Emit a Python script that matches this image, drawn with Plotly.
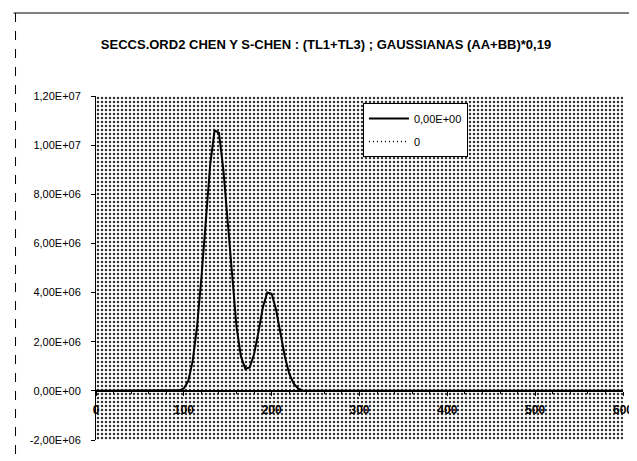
import plotly.graph_objects as go

# ---- data ----
x_vals = [0, 80, 85, 90, 95, 100, 105, 110, 115, 120, 125, 130, 135, 140, 145,
          150, 155, 160, 165, 170, 175, 180, 185, 190, 195, 200, 205, 210, 215,
          220, 225, 230, 235, 240, 250, 600]
y_gauss = [0, 0, 0, 0, 0.02e6, 0.1e6, 0.4e6, 1.2e6, 2.6e6, 4.6e6, 7.0e6, 9.2e6,
           10.6e6, 10.5e6, 9.0e6, 6.8e6, 4.5e6, 2.6e6, 1.4e6, 0.9e6, 0.95e6,
           1.5e6, 2.4e6, 3.4e6, 4.0e6, 3.95e6, 3.3e6, 2.3e6, 1.4e6, 0.7e6,
           0.3e6, 0.1e6, 0.02e6, 0, 0, 0]
x_zero = [0, 600]
y_zero = [0, 0]

series_names = ["0,00E+00", "0"]
title_text = "SECCS.ORD2 CHEN Y S-CHEN : (TL1+TL3) ; GAUSSIANAS (AA+BB)*0,19"

y_tickvals = [-2e6, 0, 2e6, 4e6, 6e6, 8e6, 1e7, 1.2e7]
y_ticktext = ["-2,00E+06", "0,00E+00", "2,00E+06", "4,00E+06", "6,00E+06",
              "8,00E+06", "1,00E+07", "1,20E+07"]
x_tickvals = [0, 100, 200, 300, 400, 500, 600]
x_ticktext = ["0", "100", "200", "300", "400", "500", "600"]

X_RANGE = [0, 600]
Y_RANGE = [-2e6, 1.2e7]

FONT = "Liberation Sans, Arial"

W, H = 637, 461
L, R, T, B = 88, 12, 88, 29
PW, PH = W - L - R, H - T - B

fig = go.Figure()

# patterned plot background (covers the full axis range)
fig.add_trace(go.Scatter(
    x=[X_RANGE[0], X_RANGE[1], X_RANGE[1], X_RANGE[0], X_RANGE[0]],
    y=[Y_RANGE[0], Y_RANGE[0], Y_RANGE[1], Y_RANGE[1], Y_RANGE[0]],
    mode="lines", line=dict(width=0), fill="toself", fillcolor="rgba(0,0,0,0)",
    fillpattern=dict(shape=".", size=4, solidity=0.3, fgcolor="#333333",
                     bgcolor="#ffffff", fillmode="replace"),
    hoverinfo="skip", showlegend=False))

fig.add_trace(go.Scatter(x=x_vals, y=y_gauss, mode="lines", name=series_names[0],
                         legendgroup="a",
                         line=dict(color="black", width=2)))
fig.add_trace(go.Scatter(x=x_zero, y=y_zero, mode="lines", name=series_names[1],
                         legendgroup="b",
                         line=dict(color="black", width=1.5, dash="1px,3px")))

fig.update_layout(
    width=W, height=H,
    margin=dict(l=L, r=R, t=T, b=B),
    paper_bgcolor="white", plot_bgcolor="white",
    font=dict(family=FONT, size=11, color="black"),
    title=dict(text="<b>" + title_text + "</b>", x=318 / W, xref="container",
               xanchor="center",
               y=1 - 36 / H, yref="container", yanchor="middle",
               font=dict(family=FONT, size=13, color="black")),
    showlegend=True,
    legend=dict(x=(360 - L) / PW, y=(H - B - 95) / PH, xanchor="left", yanchor="top",
                bgcolor="white", bordercolor="black", borderwidth=1,
                font=dict(family=FONT, size=11, color="black"),
                tracegroupgap=4, itemwidth=40),
    xaxis=dict(range=X_RANGE, tickvals=x_tickvals,
               ticktext=["<b>" + t + "</b>" for t in x_ticktext],
               showgrid=False, zeroline=False, showline=True, linecolor="black",
               linewidth=1.5, ticks="outside", ticklen=4, tickcolor="black",
               ticklabelstandoff=4,
               anchor="free", position=(0 - Y_RANGE[0]) / (Y_RANGE[1] - Y_RANGE[0]),
               minor=dict(ticks="outside", ticklen=2, dtick=20, tickcolor="black"),
               tickfont=dict(family=FONT, size=12, color="black")),
    yaxis=dict(range=Y_RANGE, tickvals=y_tickvals, ticktext=y_ticktext,
               showgrid=False, zeroline=False, showline=True, linecolor="black",
               linewidth=1, ticks="outside", ticklen=4, tickcolor="black",
               ticklabelstandoff=8, domain=[0, 1],
               tickfont=dict(family=FONT, size=11, color="black")),
)

# outer chart frame (top and left edges visible)
fig.add_shape(type="line", xref="paper", yref="paper",
              x0=(4 - L) / PW, x1=(W - L) / PW,
              y0=(H - B - 5) / PH, y1=(H - B - 5) / PH,
              line=dict(color="black", width=1))
fig.add_shape(type="line", xref="paper", yref="paper",
              x0=(6 - L) / PW, x1=(6 - L) / PW,
              y0=(H - B - 5) / PH, y1=(H - B - H) / PH,
              line=dict(color="black", width=1, dash="dash"))

fig.write_html("out.html")
